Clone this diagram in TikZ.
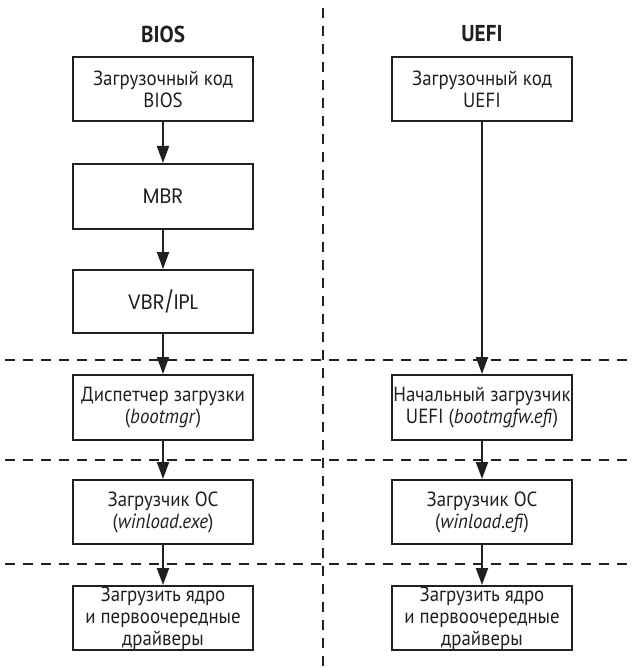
\documentclass[tikz,border=0pt]{standalone}
\usepackage{fontspec}
\setmainfont{PT Sans}[FakeStretch=0.92]
\newfontfamily\geofont{Poppins}[FakeStretch=0.92]
\usetikzlibrary{arrows.meta}
\definecolor{ink}{RGB}{35,31,32}
\begin{document}
\begin{tikzpicture}[x=1pt,y=-1pt,
  box/.style={draw=ink, line width=2pt, minimum width=180pt, minimum height=64pt,
    align=center, inner sep=0pt, text=ink, font=\fontsize{20.5}{22}\selectfont},
  geobox/.style={box, font=\geofont\fontsize{21}{24}\selectfont},
  title/.style={text=ink, font=\bfseries\fontsize{23}{26}\selectfont},
  arr/.style={draw=ink, line width=2pt, -{Triangle[length=17pt,width=12pt]}},
  sep/.style={draw=ink, line width=2pt, dash pattern=on 10pt off 8pt}]
\useasboundingbox (0,0) rectangle (632,668);
% separators
\coordinate (vt) at (323,8);
\coordinate (vb) at (323,668);
\coordinate (h1l) at (5,360);  \coordinate (h1r) at (632,360);
\coordinate (h2l) at (5,460);  \coordinate (h2r) at (632,460);
\coordinate (h3l) at (5,564);  \coordinate (h3r) at (632,564);
\draw[sep] (vt) -- (vb);
\draw[sep] (h1l) -- (h1r);
\draw[sep] (h2l) -- (h2r);
\draw[sep] (h3l) -- (h3r);
% titles
\node[title] (tb) at (163,34) {BIOS};
\node[title] (tu) at (482,34) {UEFI};
% BIOS column
\node[box] (b1) at (163,89) {Загрузочный код\\BIOS};
\node[geobox, minimum height=65pt] (b2) at (163,196.5) {MBR};
\node[geobox, minimum height=63pt] (b3) at (163,301.5) {VBR/IPL};
\node[box, minimum height=65pt] (b4) at (163,407.5) {Диспетчер загрузки\\(\textit{bootmgr})};
\node[box] (b5) at (163,512) {Загрузчик ОС\\(\textit{winload.exe})};
\node[box] (b6) at (163,618) {Загрузить ядро\\и первоочередные\\драйверы};
% UEFI column
\node[box] (u1) at (482,89) {Загрузочный код\\UEFI};
\node[box, minimum height=65pt] (u4) at (482,407.5) {Начальный загрузчик\\UEFI (\textit{bootmgfw.efi})};
\node[box] (u5) at (482,512) {Загрузчик ОС\\(\textit{winload.efi})};
\node[box] (u6) at (482,618) {Загрузить ядро\\и первоочередные\\драйверы};
% arrows
\draw[arr] (b1) -- (b2);
\draw[arr] (b2) -- (b3);
\draw[arr] (b3) -- (b4);
\draw[arr] (b4) -- (b5);
\draw[arr] (b5) -- (b6);
\draw[arr] (u1) -- (u4);
\draw[arr] (u4) -- (u5);
\draw[arr] (u5) -- (u6);
\end{tikzpicture}
\end{document}
